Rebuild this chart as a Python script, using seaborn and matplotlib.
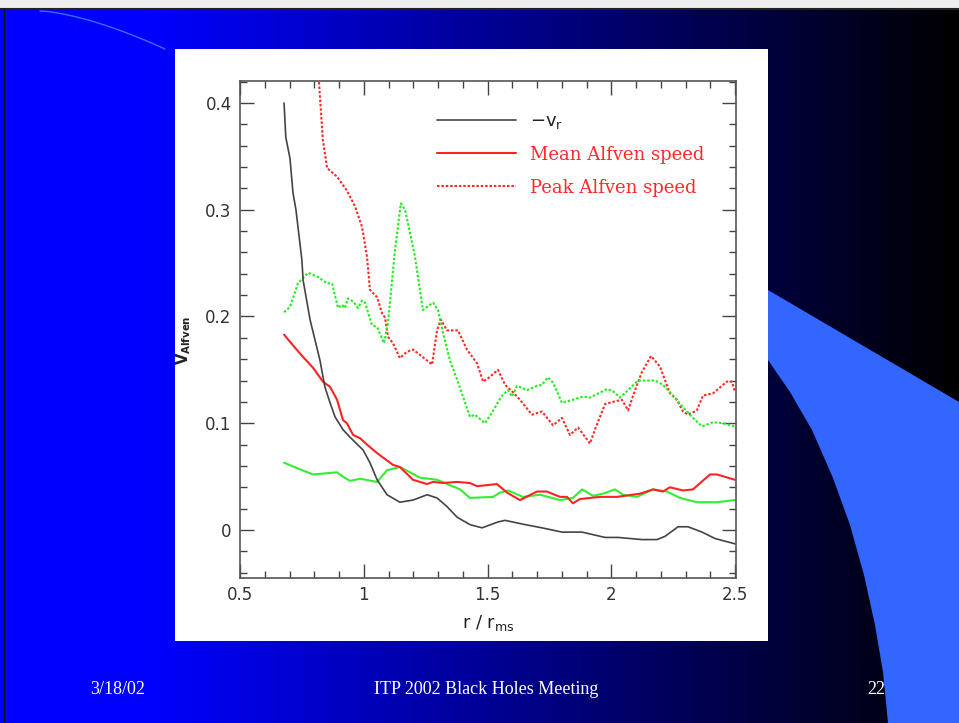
import numpy as np
import pandas as pd
import matplotlib
matplotlib.use("Agg")
import matplotlib.pyplot as plt
from matplotlib.patches import Rectangle, Polygon
from matplotlib.ticker import MultipleLocator
import seaborn as sns

# ---------------- data ----------------
vr_x = [0.678, 0.685, 0.702, 0.714, 0.726, 0.75, 0.755, 0.783, 0.823, 0.843, 0.864, 0.884, 0.916, 0.944,
        0.997, 1.025, 1.054, 1.094, 1.146, 1.199, 1.256, 1.296, 1.336, 1.377, 1.429, 1.478, 1.542, 1.571,
        1.652, 1.72, 1.801, 1.882, 1.975, 2.027, 2.124, 2.185, 2.217, 2.27, 2.31, 2.367, 2.419, 2.5]
vr_y = [0.40, 0.368, 0.348, 0.316, 0.30, 0.253, 0.234, 0.197, 0.159, 0.134, 0.119, 0.106, 0.094, 0.087,
        0.075, 0.063, 0.047, 0.033, 0.026, 0.028, 0.033, 0.030, 0.022, 0.012, 0.005, 0.002, 0.0075, 0.009,
        0.005, 0.002, -0.002, -0.002, -0.007, -0.007, -0.009, -0.009, -0.006, 0.003, 0.003, -0.002, -0.008, -0.013]

mean_red_x = [0.678, 0.714, 0.755, 0.795, 0.835, 0.864, 0.892, 0.916, 0.932, 0.957, 0.985, 1.013, 1.054, 1.118,
              1.146, 1.199, 1.256, 1.28, 1.32, 1.377, 1.429, 1.458, 1.538, 1.579, 1.631, 1.7, 1.74, 1.793,
              1.821, 1.845, 1.874, 1.955, 2.023, 2.116, 2.169, 2.209, 2.237, 2.29, 2.33, 2.399, 2.427, 2.5]
mean_red_y = [0.183, 0.173, 0.162, 0.152, 0.139, 0.134, 0.122, 0.103, 0.100, 0.089, 0.086, 0.080, 0.072, 0.061,
              0.059, 0.047, 0.043, 0.045, 0.044, 0.045, 0.044, 0.041, 0.043, 0.035, 0.028, 0.036, 0.036, 0.031,
              0.031, 0.025, 0.029, 0.031, 0.031, 0.034, 0.038, 0.036, 0.040, 0.037, 0.038, 0.052, 0.052, 0.047]

mean_green_x = [0.678, 0.73, 0.795, 0.892, 0.916, 0.944, 0.985, 1.054, 1.094, 1.146, 1.187, 1.227, 1.296, 1.348,
                1.389, 1.429, 1.522, 1.551, 1.583, 1.643, 1.712, 1.793, 1.845, 1.882, 1.926, 1.967, 2.015, 2.048,
                2.104, 2.169, 2.225, 2.278, 2.346, 2.427, 2.5]
mean_green_y = [0.063, 0.058, 0.052, 0.054, 0.050, 0.046, 0.048, 0.045, 0.056, 0.059, 0.054, 0.049, 0.047, 0.042,
                0.038, 0.030, 0.031, 0.035, 0.037, 0.031, 0.033, 0.028, 0.030, 0.038, 0.032, 0.034, 0.038, 0.033,
                0.031, 0.038, 0.036, 0.030, 0.026, 0.026, 0.028]

peak_red_x = [0.813, 0.835, 0.852, 0.892, 0.932, 0.965, 0.993, 1.013, 1.025, 1.054, 1.074, 1.086, 1.098, 1.118,
              1.146, 1.175, 1.199, 1.227, 1.276, 1.296, 1.312, 1.336, 1.381, 1.417, 1.458, 1.482, 1.502, 1.542,
              1.571, 1.603, 1.631, 1.68, 1.72, 1.765, 1.801, 1.833, 1.866, 1.914, 1.934, 1.975, 2.007, 2.043,
              2.068, 2.096, 2.124, 2.161, 2.197, 2.237, 2.265, 2.29, 2.31, 2.346, 2.371, 2.411, 2.467, 2.488, 2.5]
peak_red_y = [0.44, 0.365, 0.339, 0.331, 0.318, 0.303, 0.284, 0.256, 0.225, 0.218, 0.203, 0.199, 0.181, 0.175,
              0.161, 0.167, 0.169, 0.164, 0.155, 0.187, 0.197, 0.187, 0.187, 0.169, 0.156, 0.139, 0.142, 0.150,
              0.136, 0.129, 0.122, 0.108, 0.111, 0.098, 0.105, 0.089, 0.096, 0.081, 0.094, 0.118, 0.120, 0.122,
              0.112, 0.131, 0.148, 0.163, 0.153, 0.128, 0.122, 0.111, 0.108, 0.112, 0.126, 0.128, 0.139, 0.139, 0.129]

peak_green_x = [0.678, 0.702, 0.734, 0.775, 0.815, 0.852, 0.872, 0.896, 0.912, 0.924, 0.936, 0.957, 0.977, 0.993,
                1.005, 1.033, 1.054, 1.082, 1.098, 1.126, 1.15, 1.167, 1.207, 1.239, 1.28, 1.3, 1.32, 1.348,
                1.377, 1.429, 1.449, 1.49, 1.518, 1.559, 1.583, 1.599, 1.619, 1.66, 1.7, 1.72, 1.744, 1.765,
                1.801, 1.845, 1.886, 1.914, 1.983, 2.007, 2.035, 2.068, 2.108, 2.177, 2.209, 2.249, 2.29, 2.33,
                2.367, 2.411, 2.451, 2.5]
peak_green_y = [0.204, 0.209, 0.231, 0.241, 0.237, 0.231, 0.231, 0.208, 0.211, 0.208, 0.217, 0.214, 0.208, 0.215,
                0.213, 0.192, 0.190, 0.175, 0.194, 0.262, 0.306, 0.300, 0.256, 0.206, 0.213, 0.206, 0.185, 0.159,
                0.141, 0.106, 0.108, 0.100, 0.110, 0.126, 0.131, 0.125, 0.135, 0.131, 0.135, 0.136, 0.143, 0.138,
                0.119, 0.122, 0.125, 0.124, 0.132, 0.130, 0.124, 0.131, 0.140, 0.140, 0.136, 0.126, 0.115, 0.105,
                0.097, 0.101, 0.100, 0.097]

x_ticks = [0.5, 1, 1.5, 2, 2.5]
x_tick_labels = ["0.5", "1", "1.5", "2", "2.5"]
y_ticks = [0, 0.1, 0.2, 0.3, 0.4]
y_tick_labels = ["0", "0.1", "0.2", "0.3", "0.4"]
legend_labels = [r"$-\mathrm{v}_\mathrm{r}$", "Mean Alfven speed", "Peak Alfven speed"]
footer_left = "3/18/02"
footer_mid = "ITP 2002 Black Holes Meeting"
footer_right = "22"

# ---------------- figure & slide background ----------------
sns.set_style("ticks")
plt.rcParams["font.family"] = ["DejaVu Sans"]
plt.rcParams["mathtext.fontset"] = "dejavusans"

W, H = 959, 723
fig = plt.figure(figsize=(W / 100, H / 100), dpi=100)

bg = fig.add_axes([0, 0, 1, 1], zorder=0)
bg.set_xlim(0, W)
bg.set_ylim(H, 0)
bg.axis("off")
xs = np.arange(W)
b = np.clip((W - xs) / (W - 150), 0, 1)
grad = np.zeros((2, W, 3))
grad[:, :, 2] = b[None, :]
bg.imshow(grad, extent=[0, W, H, 0], aspect="auto", zorder=0)

# light-blue decorative band on the right
curve = [(768, 360), (790, 392), (812, 430), (833, 478), (850, 525), (864, 575), (875, 625), (883, 672), (888, 723)]
poly = [(768, 290), (959, 402), (959, 723)] + curve[::-1]
bg.add_patch(Polygon(poly, closed=True, facecolor="#3366ff", edgecolor="none", zorder=1))
# thin arc top-left
t = np.linspace(0, 1, 50)
arc_x = 40 + 125 * t
arc_y = 11 + 38 * t ** 1.5
bg.plot(arc_x, arc_y, color="#3d6bff", lw=1.0, zorder=1)
# top strip and frame lines
bg.add_patch(Rectangle((0, 0), W, 8, facecolor="#eeeeee", edgecolor="none", zorder=2))
bg.plot([0, W], [9, 9], color="#222222", lw=1.5, zorder=2)
bg.plot([4, 4], [9, H], color="#111111", lw=1.0, zorder=2)
# white panel behind chart
bg.add_patch(Rectangle((175, 49), 593, 592, facecolor="white", edgecolor="none", zorder=3))

# footer
fkw = dict(color="white", fontsize=13, family="Liberation Serif", va="center", zorder=4)
bg.text(118, 690, footer_left, ha="center", **fkw)
bg.text(486, 690, footer_mid, ha="center", **fkw)
bg.text(876, 690, footer_right, ha="center", **fkw)

# ---------------- chart ----------------
ax = fig.add_axes([240 / W, 1 - 578 / H, 496 / W, 497 / H], zorder=5)
ax.set_facecolor("white")

dot = (0, (1.2, 0.9))
sns.lineplot(x=peak_red_x, y=peak_red_y, ax=ax, color="#ff2a2a", lw=1.5, linestyle=dot,
             sort=False, estimator=None, label=legend_labels[2])
sns.lineplot(x=peak_green_x, y=peak_green_y, ax=ax, color="#22ee22", lw=1.5, linestyle=dot,
             sort=False, estimator=None, label="_nolegend_")
sns.lineplot(x=mean_green_x, y=mean_green_y, ax=ax, color="#33ee33", lw=1.5,
             sort=False, estimator=None, label="_nolegend_")
sns.lineplot(x=mean_red_x, y=mean_red_y, ax=ax, color="#ff2222", lw=1.5,
             sort=False, estimator=None, label=legend_labels[1])
sns.lineplot(x=vr_x, y=vr_y, ax=ax, color="#444444", lw=1.2,
             sort=False, estimator=None, label=legend_labels[0])

ax.set_xlim(0.5, 2.504)
ax.set_ylim(-0.045, 0.4206)
ax.set_xticks(x_ticks)
ax.set_xticklabels(x_tick_labels)
ax.set_yticks(y_ticks)
ax.set_yticklabels(y_tick_labels)
ax.xaxis.set_minor_locator(MultipleLocator(0.1))
ax.yaxis.set_minor_locator(MultipleLocator(0.02))
ax.tick_params(which="both", direction="in", top=True, right=True, colors="#444444",
               labelcolor="#333333", labelsize=12, width=1.0)
ax.tick_params(which="major", length=10, pad=6)
ax.tick_params(which="minor", length=5)
for s in ax.spines.values():
    s.set_color("#555555")
    s.set_linewidth(1.2)

ax.set_xlabel(r"r / r$_{\mathrm{ms}}$", fontsize=13, color="#222222")
ax.set_ylabel(r"$\mathbf{V_{Alfven}}$", fontsize=10.5, color="#222222")
ax.xaxis.set_label_coords(0.5, -0.07)
ax.yaxis.set_label_coords((193 - 240) / 496, (578 - 340) / 497)

# legend in the order of the original
handles, labels = ax.get_legend_handles_labels()
order = [labels.index(l) for l in legend_labels]
leg = ax.legend([handles[i] for i in order], [labels[i] for i in order],
                loc="upper left", bbox_to_anchor=((437 - 240) / 496, (578 - 112) / 497),
                frameon=False, borderpad=0, borderaxespad=0, handlelength=4.4,
                handletextpad=0.75, labelspacing=0.82,
                prop={"family": "DejaVu Serif", "size": 13},
                labelcolor=["#222222", "#ff2a2a", "#ff2a2a"])

fig.savefig("out.png", dpi=100)
